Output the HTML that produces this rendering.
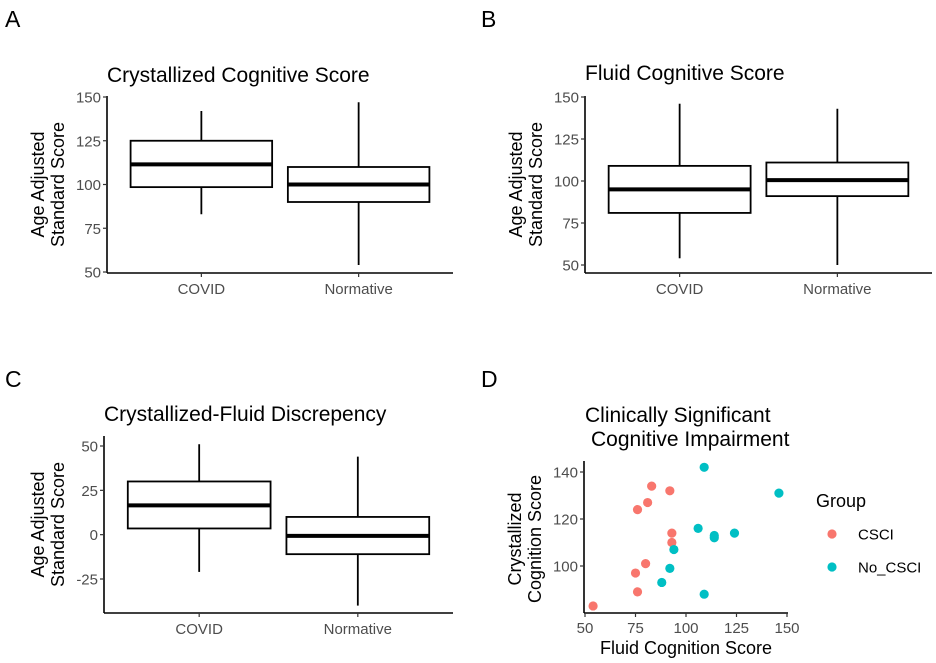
<!DOCTYPE html>
<html><head><meta charset="utf-8"><style>
html,body{margin:0;padding:0;background:#fff;}
svg{display:block;font-family:"Liberation Sans",Arial,sans-serif;}
.tick{font-size:15px;fill:#4d4d4d;}
.ttl{font-size:21px;fill:#000;}
.axt{font-size:18px;fill:#000;}
.lab{font-size:23px;fill:#000;}
</style></head><body>
<svg id="fig" width="936" height="663" viewBox="0 0 936 663"></svg>
<script>
const groups = ["COVID","Normative"];
// box stats: [lowWhisker, q1, median, q3, highWhisker]
const crystStats = [[83,98.5,111.5,125,142],[54,90,100,110,147]];
const fluidStats = [[54,81,95,109,146],[50,91,100.5,111,143]];
const discStats = [[-21,3.5,16.5,30,51],[-40,-11,-0.7,10,44]];
const ticksAB = [50,75,100,125,150];
const ticksC = [-25,0,25,50];
const cscX = [54,76,75,80,93,93,76,81,83,92];
const cscY = [83,89,97,101,110,114,124,127,134,132];
const noX = [88,92,94,109,106,114,114,124,109,146];
const noY = [93,99,107,88,116,113,112,114,142,131];
const ticksDX = [50,75,100,125,150];
const ticksDY = [100,120,140];

const svg=document.getElementById('fig');
const NS='http://www.w3.org/2000/svg';
function mk(tag,attrs,parent,text){const e=document.createElementNS(NS,tag);for(const k in attrs)e.setAttribute(k,attrs[k]);if(text!==undefined)e.textContent=text;(parent||svg).appendChild(e);return e;}

function boxPanel(cfg){
  const g=mk('g',{});
  
  
  const {x0,x1,yTop,yBot,v1,p1,v2,p2}=cfg;
  const ys=v=>p1+(v-v1)*(p2-p1)/(v2-v1);
  const unit=(x1-x0)/2.2;
  const xs=i=>x0+(0.6+i)*unit;
  const bw=0.9*unit;
  const t=mk('text',{x:x0,y:cfg.titleY,class:'ttl'},g,cfg.title);
  
  
  const L=mk('text',{x:cfg.labX,y:cfg.labY,class:'lab'},g,cfg.label);
  
  
  const ya=mk('line',{x1:x0,y1:yTop,x2:x0,y2:yBot,stroke:'#000','stroke-width':1.6},g);
  
  
  const xa=mk('line',{x1:x0,y1:yBot,x2:x1,y2:yBot,stroke:'#000','stroke-width':1.6},g);
  
  
  cfg.ticks.forEach(v=>{
    mk('line',{x1:x0-4,y1:ys(v),x2:x0,y2:ys(v),stroke:'#333','stroke-width':1.2},g);
    const tt=mk('text',{x:x0-6,y:ys(v)+5.5,class:'tick','text-anchor':'end'},g,v);
    
    
  });
  groups.forEach((gname,i)=>{
    const cx=xs(i);
    mk('line',{x1:cx,y1:yBot,x2:cx,y2:yBot+4,stroke:'#333','stroke-width':1.2},g);
    const tl=mk('text',{x:cx,y:yBot+21,class:'tick','text-anchor':'middle'},g,gname);
    
    
    const s=cfg.stats[i];
    const bg=mk('g',{},g);
    
    
    mk('line',{x1:cx,y1:ys(s[0]),x2:cx,y2:ys(s[1]),stroke:'#000','stroke-width':1.8},bg);
    mk('line',{x1:cx,y1:ys(s[3]),x2:cx,y2:ys(s[4]),stroke:'#000','stroke-width':1.8},bg);
    mk('rect',{x:cx-bw/2,y:ys(s[3]),width:bw,height:ys(s[1])-ys(s[3]),fill:'#fff',stroke:'#000','stroke-width':1.8},bg);
    mk('line',{x1:cx-bw/2,y1:ys(s[2]),x2:cx+bw/2,y2:ys(s[2]),stroke:'#000','stroke-width':4},bg);
  });
  const yt=mk('text',{transform:`translate(${cfg.ytX},${(yTop+yBot)/2}) rotate(-90)`,class:'axt','text-anchor':'middle'},g);
  
  
  mk('tspan',{x:0,dy:0},yt,'Age Adjusted');
  mk('tspan',{x:0,dy:20},yt,'Standard Score');
}

boxPanel({name:'panel-a',label:'A',labX:5,labY:27,title:'Crystallized Cognitive Score',titleY:82,x0:107,x1:453,yTop:96,yBot:273,v1:50,p1:272,v2:150,p2:97,ticks:ticksAB,stats:crystStats,ytX:44});
boxPanel({name:'panel-b',label:'B',labX:481,labY:27,title:'Fluid Cognitive Score',titleY:80,x0:585,x1:932,yTop:96,yBot:273,v1:50,p1:265,v2:150,p2:97,ticks:ticksAB,stats:fluidStats,ytX:522});
boxPanel({name:'panel-c',label:'C',labX:5,labY:387,title:'Crystallized-Fluid Discrepency',titleY:421,x0:104,x1:453,yTop:436,yBot:613,v1:-25,p1:579,v2:50,p2:446,ticks:ticksC,stats:discStats,ytX:44});

// Panel D scatter
(function(){
  const g=mk('g',{});
  
  
  const x0=584,x1=788,yTop=461,yBot=613;
  const xs=v=>585+(v-50)*(787-585)/100;
  const ys=v=>566+(v-100)*(472-566)/40;
  const L=mk('text',{x:481,y:387,class:'lab'},g,'D');
  
  
  const t=mk('text',{x:585,y:422,class:'ttl'},g);
  
  
  mk('tspan',{x:585,dy:0},t,'Clinically Significant');
  mk('tspan',{x:591,dy:24},t,'Cognitive Impairment');
  const ya=mk('line',{x1:x0,y1:yTop,x2:x0,y2:yBot,stroke:'#000','stroke-width':1.6},g);
  
  
  const xa=mk('line',{x1:x0,y1:yBot,x2:x1,y2:yBot,stroke:'#000','stroke-width':1.6},g);
  
  
  ticksDY.forEach(v=>{
    mk('line',{x1:x0-4,y1:ys(v),x2:x0,y2:ys(v),stroke:'#333','stroke-width':1.2},g);
    const tt=mk('text',{x:x0-6,y:ys(v)+5.5,class:'tick','text-anchor':'end'},g,v);
    
    
  });
  ticksDX.forEach(v=>{
    mk('line',{x1:xs(v),y1:yBot,x2:xs(v),y2:yBot+4,stroke:'#333','stroke-width':1.2},g);
    const tt=mk('text',{x:xs(v),y:yBot+20,class:'tick','text-anchor':'middle'},g,v);
    
    
  });
  cscX.forEach((v,i)=>{
    const c=mk('circle',{cx:xs(v),cy:ys(cscY[i]),r:4.6,fill:'#F8766D'},g);
    
    
  });
  noX.forEach((v,i)=>{
    const c=mk('circle',{cx:xs(v),cy:ys(noY[i]),r:4.6,fill:'#00BFC4'},g);
    
    
  });
  const xt=mk('text',{x:686,y:654,class:'axt','text-anchor':'middle'},g,'Fluid Cognition Score');
  
  
  const yt=mk('text',{transform:`translate(521,${(yTop+yBot)/2+2}) rotate(-90)`,class:'axt','text-anchor':'middle'},g);
  
  
  mk('tspan',{x:0,dy:0},yt,'Crystallized');
  mk('tspan',{x:0,dy:20},yt,'Cognition Score');
  const lg=mk('g',{},g);
  
  
  const lt=mk('text',{x:816,y:507,class:'axt'},lg,'Group');
  
  
  [['CSCI','#F8766D',534],['No_CSCI','#00BFC4',567]].forEach(([n,c,y])=>{
    const e=mk('g',{},lg);
    
    
    mk('circle',{cx:832,cy:y,r:4.6,fill:c},e);
    mk('text',{x:858,y:y+5.5,class:'tick',style:'fill:#000'},e,n);
  });
})();
</script>
</body></html>
